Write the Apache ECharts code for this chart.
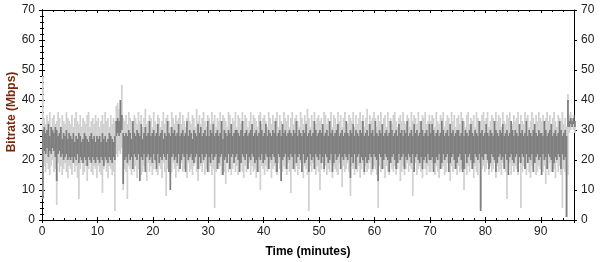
<!DOCTYPE html>
<html>
<head>
<meta charset="utf-8">
<script src="https://cdn.jsdelivr.net/npm/echarts@6/dist/echarts.min.js"></script>
<style>
html,body{margin:0;padding:0;background:#fff;}
#chart{width:600px;height:262px;}
</style>
</head>
<body>
<div id="chart"></div>
<script>
// width of each time bin, minutes (bin k spans k*BIN .. (k+1)*BIN)
const BIN = 0.25;
const xTicks = [0, 10, 20, 30, 40, 50, 60, 70, 80, 90];
const yTicks = [0, 10, 20, 30, 40, 50, 60, 70];
const xTitle = 'Time (minutes)';
const yTitle = 'Bitrate (Mbps)';

// light grey trace: max / min of each bin (Mbps)
const lightHigh = [
48,34,32,35,33,36,31,34,35,32,33,36,34,31,35,33,32,36,34,33,
32,35,31,34,36,33,32,35,31,34,33,32,35,36,31,33,34,32,35,33,
34,31,33,35,32,36,33,34,31,35,32,34,33,38,39,37,40,45,34,33,
35,32,36,34,33,31,35,34,32,36,33,35,31,34,37,32,33,35,34,31,
36,33,32,35,34,31,33,36,32,34,35,33,31,36,34,32,35,33,34,36,
32,35,33,31,34,36,33,32,35,34,31,37,33,35,32,34,36,33,31,35,
34,32,36,33,35,31,34,33,36,32,35,34,33,31,36,35,32,34,33,36,
31,35,34,32,36,33,35,34,31,33,36,32,35,34,33,31,35,36,32,34,
35,33,31,36,34,32,35,33,34,36,31,35,33,32,36,34,33,35,31,34,
36,32,34,35,33,31,36,34,32,35,33,37,34,31,35,33,36,32,34,35,
33,34,31,36,35,32,34,33,36,31,35,34,32,36,33,35,31,34,36,33,
32,35,34,33,36,31,35,32,34,36,33,35,31,34,37,32,35,33,34,36,
34,31,35,33,36,32,34,35,31,36,33,34,32,35,36,33,31,34,35,33,
36,33,32,35,34,31,36,33,35,34,32,36,33,31,35,34,36,32,33,35,
33,35,34,31,36,33,32,35,34,36,31,33,35,34,32,36,33,35,31,34,
35,32,36,34,33,31,35,36,32,34,33,35,31,36,34,32,33,35,36,33,
34,36,31,33,35,34,32,36,33,35,34,31,36,33,32,35,34,36,33,32,
35,33,34,36,31,35,33,32,36,34,35,31,33,36,34,32,35,33,36,34,
33,35,31,34,36,33,35,32,34,36,33,31,35,34,33,36,32,34,31,42,
35,36,34,35,33
];
const lightLow = [
8,18,16,19,17,15,18,20,16,17,5,19,16,18,15,17,19,16,14,18,
17,15,19,16,18,14,7,17,19,15,16,18,13,17,19,16,15,18,17,14,
18,16,15,9,17,19,16,14,18,17,15,16,3,22,21,23,22,24,10,17,
16,7,18,17,15,19,16,18,14,17,19,15,16,18,17,13,19,16,18,15,
17,19,16,15,18,17,14,19,16,8,17,18,15,16,19,17,14,18,16,17,
19,16,17,18,14,19,16,17,15,18,19,16,13,17,18,16,19,15,17,18,
16,18,15,17,4,16,19,17,18,15,17,16,12,19,16,18,15,17,19,16,
18,15,17,19,16,14,18,16,17,19,15,18,16,17,14,19,16,10,18,17,
15,18,16,17,19,14,17,18,16,15,19,17,13,16,18,17,15,19,16,9,
17,19,16,18,15,17,19,16,14,18,17,15,3,18,16,19,17,15,18,16,
10,17,19,16,18,15,17,16,19,14,18,17,16,15,19,17,11,18,16,17,
19,16,8,18,17,15,19,16,18,14,17,19,15,18,16,17,19,15,16,18,
17,15,4,18,16,19,17,14,18,16,15,19,17,16,18,15,17,19,13,16,
18,15,17,19,16,18,17,8,16,19,15,17,18,16,14,19,17,15,18,16,
16,19,17,15,18,16,14,19,17,18,15,16,19,17,13,18,16,17,19,15,
18,16,17,19,10,17,15,18,16,19,17,14,18,16,15,19,4,17,18,16,
17,19,15,18,16,17,19,14,18,16,17,15,19,18,16,7,17,19,15,18,
16,18,17,15,19,4,16,18,17,15,19,16,14,18,17,19,15,16,18,17,
19,16,18,12,17,15,19,16,18,17,14,19,16,18,15,4,17,16,1,15,
29,30,31,30,29
];

// dark grey trace: max / min of each bin (Mbps)
const darkHigh = [
30,31,29,30,32,28,31,30,29,31,30,28,29,31,27,29,28,30,27,29,
28,27,29,26,28,27,29,28,26,27,29,28,27,26,28,29,27,28,26,28,
27,28,26,29,27,28,26,27,29,28,27,26,28,33,34,33,40,35,29,28,
29,28,30,29,27,33,29,28,30,29,28,32,27,29,31,28,29,33,28,29,
30,28,29,32,28,29,30,27,29,28,33,29,28,31,29,30,28,29,32,28,
29,30,28,29,33,28,30,29,27,30,29,28,32,29,31,28,29,30,28,33,
28,30,29,32,28,29,30,28,29,33,27,30,29,28,30,29,32,28,29,30,
30,29,28,30,33,28,29,30,28,29,30,32,28,29,30,28,29,33,30,28,
29,32,28,30,29,28,30,29,33,28,29,30,28,32,29,30,28,29,30,29,
28,30,29,33,28,30,29,28,30,29,32,28,29,30,28,29,33,30,28,29,
30,29,32,28,29,30,28,33,29,30,28,29,30,32,28,29,30,28,29,33,
29,28,30,29,32,28,30,29,28,30,29,33,28,29,30,28,32,29,30,28,
33,29,28,30,29,32,28,29,30,28,29,33,30,28,29,30,28,32,29,30,
28,30,29,33,28,29,30,28,32,29,30,28,29,33,30,28,29,30,28,32,
29,32,30,28,29,30,28,29,33,30,28,29,30,28,32,29,30,28,29,30,
30,28,29,33,28,30,29,28,30,32,29,28,30,29,28,33,29,30,28,29,
32,29,28,30,29,28,33,30,29,28,30,29,32,28,29,30,28,29,33,30,
28,30,29,28,32,29,30,28,29,33,28,30,29,28,30,32,29,28,30,29,
29,28,33,30,28,29,30,32,28,29,30,28,29,33,30,28,29,30,28,40,
33,34,33,34,33
];
const darkLow = [
7,23,22,24,21,23,22,24,23,21,13,22,23,21,22,20,21,22,20,21,
20,21,19,21,20,22,19,21,20,19,21,20,18,21,20,19,21,20,19,21,
20,19,21,20,18,21,20,19,21,20,19,21,20,28,29,28,29,30,12,20,
21,19,22,20,21,17,22,21,20,22,13,21,20,22,16,21,22,20,21,19,
22,20,17,22,19,21,20,22,21,20,22,16,10,21,22,20,21,19,22,17,
20,22,21,16,22,20,21,22,20,19,21,22,17,21,19,22,20,21,22,16,
21,19,22,20,21,22,17,19,21,22,15,20,21,19,22,17,21,22,19,21,
22,20,16,19,22,21,20,22,17,21,20,22,21,19,20,16,21,20,22,19,
20,22,21,17,21,20,22,21,19,16,22,21,13,20,21,22,17,21,20,22,
21,17,22,19,21,22,20,16,22,19,20,21,16,22,20,21,17,22,21,20,
22,19,21,17,22,21,19,20,22,16,19,22,20,21,22,17,21,20,22,21,
20,22,14,21,19,22,17,21,22,19,21,20,16,21,19,20,22,21,17,22,
21,20,13,22,21,17,20,22,21,20,16,19,21,22,20,17,19,22,20,21,
22,17,21,20,22,21,19,22,16,21,22,20,19,21,17,20,21,19,22,20,
20,21,16,19,21,20,22,17,19,22,20,21,22,16,19,21,22,20,17,19,
21,22,20,16,17,22,19,21,22,20,17,19,22,21,20,22,3,21,20,22,
22,20,17,19,22,21,20,16,19,21,22,20,21,17,22,20,15,21,22,20,
19,21,22,16,21,19,22,21,17,22,19,21,20,22,16,19,21,22,20,21,
15,22,20,21,17,22,21,20,16,19,21,20,22,21,17,22,20,21,1,31,
31,32,31,32,31
];

const xMin = xTicks[0], xMax = 96, xStep = xTicks[1] - xTicks[0];
const yMin = yTicks[0], yMax = yTicks[yTicks.length - 1], yStep = yTicks[1] - yTicks[0];

// each bin -> [t0, t1, low, high]
function bins(high, low) {
  return high.map((h, k) => [k * BIN, (k + 1) * BIN, low[k], h]);
}
function makeRender(color) {
  return function (params, api) {
    const a = api.coord([api.value(0), api.value(3)]);
    const b = api.coord([api.value(1), api.value(2)]);
    return {
      type: 'rect',
      shape: { x: a[0], y: a[1], width: (b[0] - a[0]) + 0.35, height: Math.max(b[1] - a[1], 1) },
      style: { fill: color }
    };
  };
}

const FONT = '"Liberation Sans", Arial, sans-serif';
const lineStyle = { color: '#000', width: 1 };

function yAx(pos, inside, labels, extra) {
  return Object.assign({
    type: 'value', position: pos, offset: 0, min: yMin, max: yMax, interval: yStep,
    axisLine: { show: true, lineStyle },
    axisTick: { show: true, inside, length: 3, lineStyle },
    minorTick: { show: inside, splitNumber: 5, length: 2, lineStyle },
    splitLine: { show: false },
    axisLabel: { show: labels, color: '#222', fontFamily: FONT, fontSize: 12, margin: 7 }
  }, extra || {});
}
function xAx(pos, inside, labels, extra) {
  return Object.assign({
    type: 'value', position: pos, offset: 0, min: xMin, max: xMax, interval: xStep,
    axisLine: { show: true, onZero: false, lineStyle },
    axisTick: { show: true, inside, length: 3, lineStyle },
    minorTick: { show: inside, splitNumber: 5, length: 2, lineStyle },
    splitLine: { show: false },
    axisLabel: { show: labels, color: '#222', fontFamily: FONT, fontSize: 12, margin: 6, showMaxLabel: false }
  }, extra || {});
}

const chart = echarts.init(document.getElementById('chart'), null, { renderer: 'canvas' });
chart.setOption({
  animation: false,
  backgroundColor: '#fff',
  grid: { left: 42, right: 26, top: 10, bottom: 42, containLabel: false, outerBoundsMode: 'none' },
  graphic: [{
    type: 'text', x: 12, y: 112, rotation: Math.PI / 2,
    style: {
      text: yTitle, fill: '#7a2a0c', font: 'bold 12px "Liberation Sans", Arial, sans-serif',
      textAlign: 'center', textVerticalAlign: 'middle'
    }
  }],
  xAxis: [
    xAx('bottom', true, true, {
      name: xTitle, nameLocation: 'middle', nameGap: 26,
      nameTextStyle: { color: '#000', fontWeight: 'bold', fontFamily: FONT, fontSize: 12 }
    }),
    xAx('bottom', false, false),
    xAx('top', true, false)
  ],
  yAxis: [
    yAx('left', true, true),
    yAx('left', false, false),
    yAx('right', true, true),
    yAx('right', false, false)
  ],
  series: [
    {
      type: 'custom', data: bins(lightHigh, lightLow), xAxisIndex: 0, yAxisIndex: 0,
      renderItem: makeRender('#d0d0d0'), encode: { x: [0, 1], y: [2, 3] }, z: 2, silent: true
    },
    {
      type: 'custom', data: bins(darkHigh, darkLow), xAxisIndex: 0, yAxisIndex: 0,
      renderItem: makeRender('#7f7f7f'), encode: { x: [0, 1], y: [2, 3] }, z: 3, silent: true
    }
  ]
});
</script>
</body>
</html>
